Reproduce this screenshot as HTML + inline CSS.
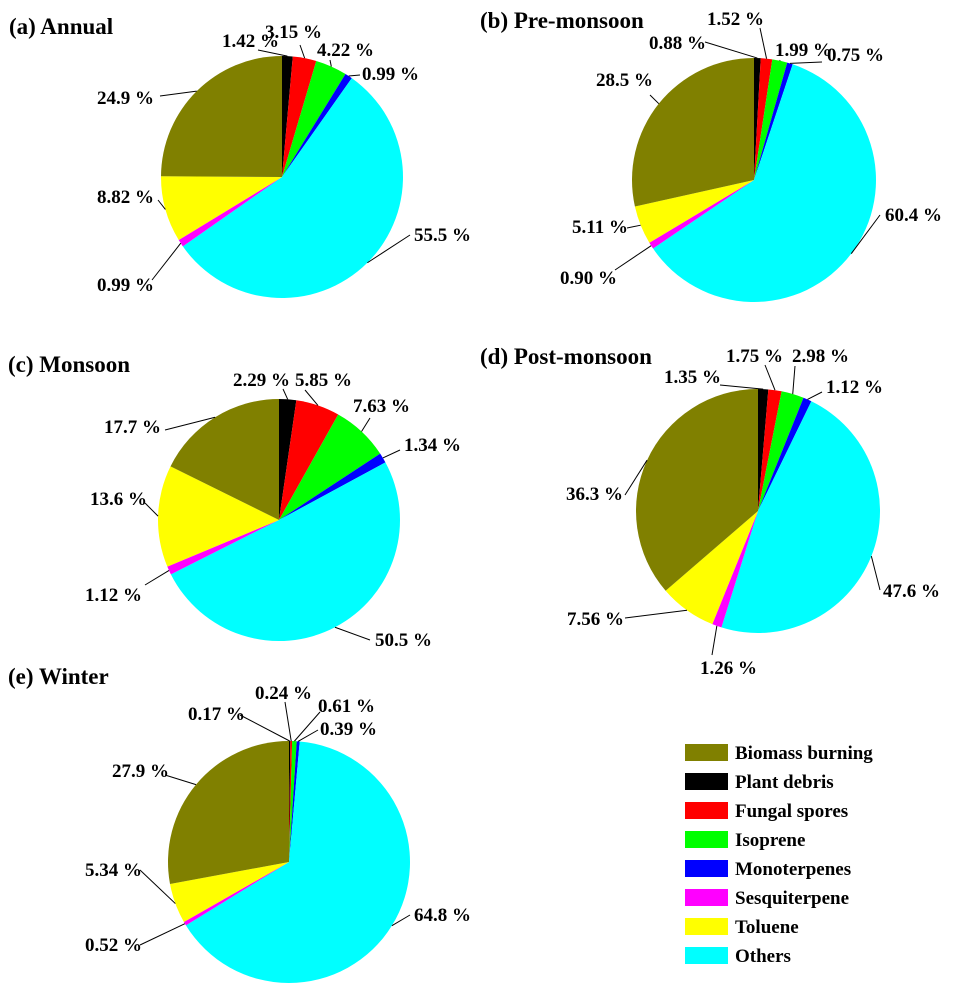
<!DOCTYPE html>
<html><head><meta charset="utf-8"><style>
body{margin:0;background:#fff}
svg{display:block}
text{font-family:"Liberation Serif",serif;font-weight:bold;font-size:19px;fill:#000}
.t{font-size:23px}
</style></head><body>
<svg id="s" width="959" height="992" xmlns="http://www.w3.org/2000/svg">
<g id="pies"></g>
<text class="t" x="9" y="34">(a) Annual</text>
<text x="222" y="47">1.42 %</text><text x="265" y="38">3.15 %</text><text x="317" y="56">4.22 %</text><text x="362" y="80">0.99 %</text>
<text x="97" y="104">24.9 %</text><text x="97" y="203">8.82 %</text><text x="414" y="241">55.5 %</text><text x="97" y="291">0.99 %</text>
<text class="t" x="480" y="28">(b) Pre-monsoon</text>
<text x="707" y="25">1.52 %</text><text x="649" y="49">0.88 %</text><text x="775" y="56">1.99 %</text><text x="827" y="61">0.75 %</text>
<text x="596" y="86">28.5 %</text><text x="885" y="221">60.4 %</text><text x="572" y="233">5.11 %</text><text x="560" y="284">0.90 %</text>
<text class="t" x="8" y="372">(c) Monsoon</text>
<text x="233" y="386">2.29 %</text><text x="295" y="386">5.85 %</text><text x="353" y="412">7.63 %</text><text x="404" y="451">1.34 %</text>
<text x="104" y="433">17.7 %</text><text x="90" y="505">13.6 %</text><text x="85" y="601">1.12 %</text><text x="375" y="646">50.5 %</text>
<text class="t" x="480" y="364">(d) Post-monsoon</text>
<text x="726" y="362">1.75 %</text><text x="792" y="362">2.98 %</text><text x="664" y="383">1.35 %</text><text x="826" y="393">1.12 %</text>
<text x="566" y="500">36.3 %</text><text x="883" y="597">47.6 %</text><text x="567" y="625">7.56 %</text><text x="700" y="674">1.26 %</text>
<text class="t" x="8" y="684">(e) Winter</text>
<text x="255" y="699">0.24 %</text><text x="188" y="720">0.17 %</text><text x="318" y="712">0.61 %</text><text x="320" y="735">0.39 %</text>
<text x="112" y="777">27.9 %</text><text x="85" y="876">5.34 %</text><text x="414" y="921">64.8 %</text><text x="85" y="951">0.52 %</text>
<g>
<rect x="685" y="744" width="43" height="17" fill="#808000"/><text x="735" y="759">Biomass burning</text>
<rect x="685" y="773" width="43" height="17" fill="#000"/><text x="735" y="788">Plant debris</text>
<rect x="685" y="802" width="43" height="17" fill="#f00"/><text x="735" y="817">Fungal spores</text>
<rect x="685" y="831" width="43" height="17" fill="#0f0"/><text x="735" y="846">Isoprene</text>
<rect x="685" y="860" width="43" height="17" fill="#00f"/><text x="735" y="875">Monoterpenes</text>
<rect x="685" y="889" width="43" height="17" fill="#f0f"/><text x="735" y="904">Sesquiterpene</text>
<rect x="685" y="918" width="43" height="17" fill="#ff0"/><text x="735" y="933">Toluene</text>
<rect x="685" y="947" width="43" height="17" fill="#0ff"/><text x="735" y="962">Others</text>
</g>
</svg>
<script>
var cols=["#000","#f00","#0f0","#00f","#0ff","#f0f","#ff0","#808000"];
var P=[
[282,177,121,[1.42,3.15,4.22,0.99,55.5,0.99,8.82,24.9],[[258,50],[300,45],[330,60],[360,75],[410,235],[152,280],[158,200],[160,96]]],
[754,180,122,[0.88,1.52,1.99,0.75,60.4,0.90,5.11,28.5],[[705,42],[760,28],[780,60],[822,62],[880,215],[615,270],[627,228],[650,95]]],
[279,520,121,[2.29,5.85,7.63,1.34,50.5,1.12,13.6,17.7],[[283,389],[305,390],[370,418],[400,450],[370,640],[145,585],[145,503],[165,430]]],
[758,511,122,[1.35,1.75,2.98,1.12,47.6,1.26,7.56,36.3],[[720,385],[765,365],[795,366],[822,392],[880,590],[712,655],[625,618],[625,495]]],
[289,862,121,[0.17,0.24,0.61,0.39,64.8,0.52,5.34,27.9],[[240,715],[285,702],[320,712],[318,730],[410,915],[140,945],[140,870],[165,775]]]];
var g=document.getElementById("pies"),h="";
P.forEach(function(p){var cx=p[0],cy=p[1],r=p[2],v=p[3],an=p[4],tot=v.reduce(function(a,b){return a+b},0),a=0;
v.forEach(function(x,i){var a0=a/tot*2*Math.PI,a1=(a+x)/tot*2*Math.PI;a+=x;
var x0=cx+r*Math.sin(a0),y0=cy-r*Math.cos(a0),x1=cx+r*Math.sin(a1),y1=cy-r*Math.cos(a1);
h+='<path d="M'+cx+','+cy+'L'+x0+','+y0+'A'+r+','+r+' 0 '+((a1-a0)>Math.PI?1:0)+' 1 '+x1+','+y1+'Z" fill="'+cols[i]+'"/>';
var m=(a0+a1)/2;h+='<line x1="'+(cx+r*Math.sin(m))+'" y1="'+(cy-r*Math.cos(m))+'" x2="'+an[i][0]+'" y2="'+an[i][1]+'" stroke="#000" stroke-width="1"/>';
});});
g.innerHTML=h;
</script>
</body></html>
